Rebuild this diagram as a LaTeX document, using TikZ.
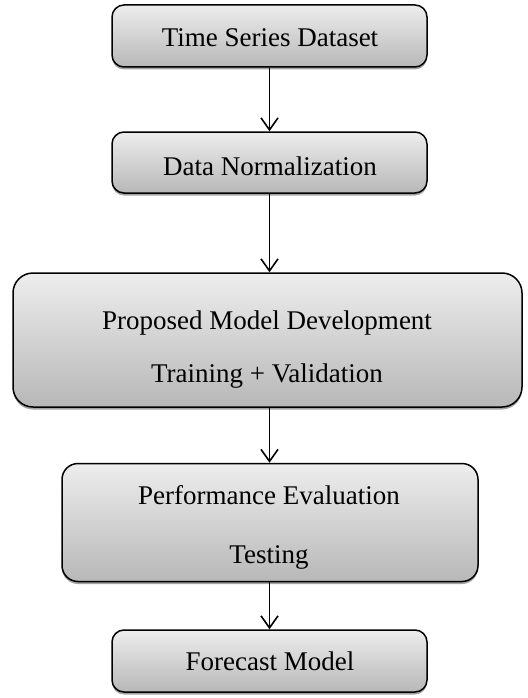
\documentclass[tikz,border=0pt]{standalone}
\usepackage{fontspec}
\setmainfont{Liberation Serif}
\usetikzlibrary{shadows,arrows.meta}
\tikzset{
  stepbox/.style={draw=black, line width=1.5pt, top color=black!7, bottom color=black!28,
    inner sep=0pt,
    drop shadow={shadow xshift=0pt, shadow yshift=-2.5pt, fill=black!45, opacity=0.8}},
  steptext/.style={anchor=base, inner sep=0pt, font=\fontsize{27}{32}\selectfont},
  flow/.style={draw=black, line width=1.6pt, -{Straight Barb[length=12pt,width=17pt,line width=1.6pt]}}
}
\begin{document}
\begin{tikzpicture}[x=1pt,y=-1pt]
  \useasboundingbox (0,0) rectangle (527,698);
  % boxes
  \node[stepbox, rounded corners=12pt, minimum width=315pt, minimum height=62pt] (data) at (269.5,36) {};
  \node[stepbox, rounded corners=12pt, minimum width=315pt, minimum height=61pt] (norm) at (269.5,162.5) {};
  \node[stepbox, rounded corners=20pt, minimum width=509pt, minimum height=134pt] (model) at (267.5,340) {};
  \node[stepbox, rounded corners=16pt, minimum width=416pt, minimum height=118pt] (eval) at (270,522.5) {};
  \node[stepbox, rounded corners=12pt, minimum width=315pt, minimum height=62pt] (fore) at (269.5,661) {};
  % labels, placed on their baselines
  \node[steptext] (dataT) at (270,47) {Time Series Dataset};
  \node[steptext] (normT) at (270,175) {Data Normalization};
  \node[steptext] (modelT1) at (267,329) {Proposed Model Development};
  \node[steptext] (modelT2) at (267,382) {Training + Validation};
  \node[steptext] (evalT1) at (269,504) {Performance Evaluation};
  \node[steptext] (evalT2) at (269,563) {Testing};
  \node[steptext] (foreT) at (270,670) {Forecast Model};
  % connectors
  \draw[flow] (data.south) -- (norm.north);
  \draw[flow] (norm.south) -- (model.north -| norm.south);
  \draw[flow] (model.south -| norm.south) -- (eval.north -| norm.south);
  \draw[flow] (eval.south -| norm.south) -- (fore.north);
\end{tikzpicture}
\end{document}
